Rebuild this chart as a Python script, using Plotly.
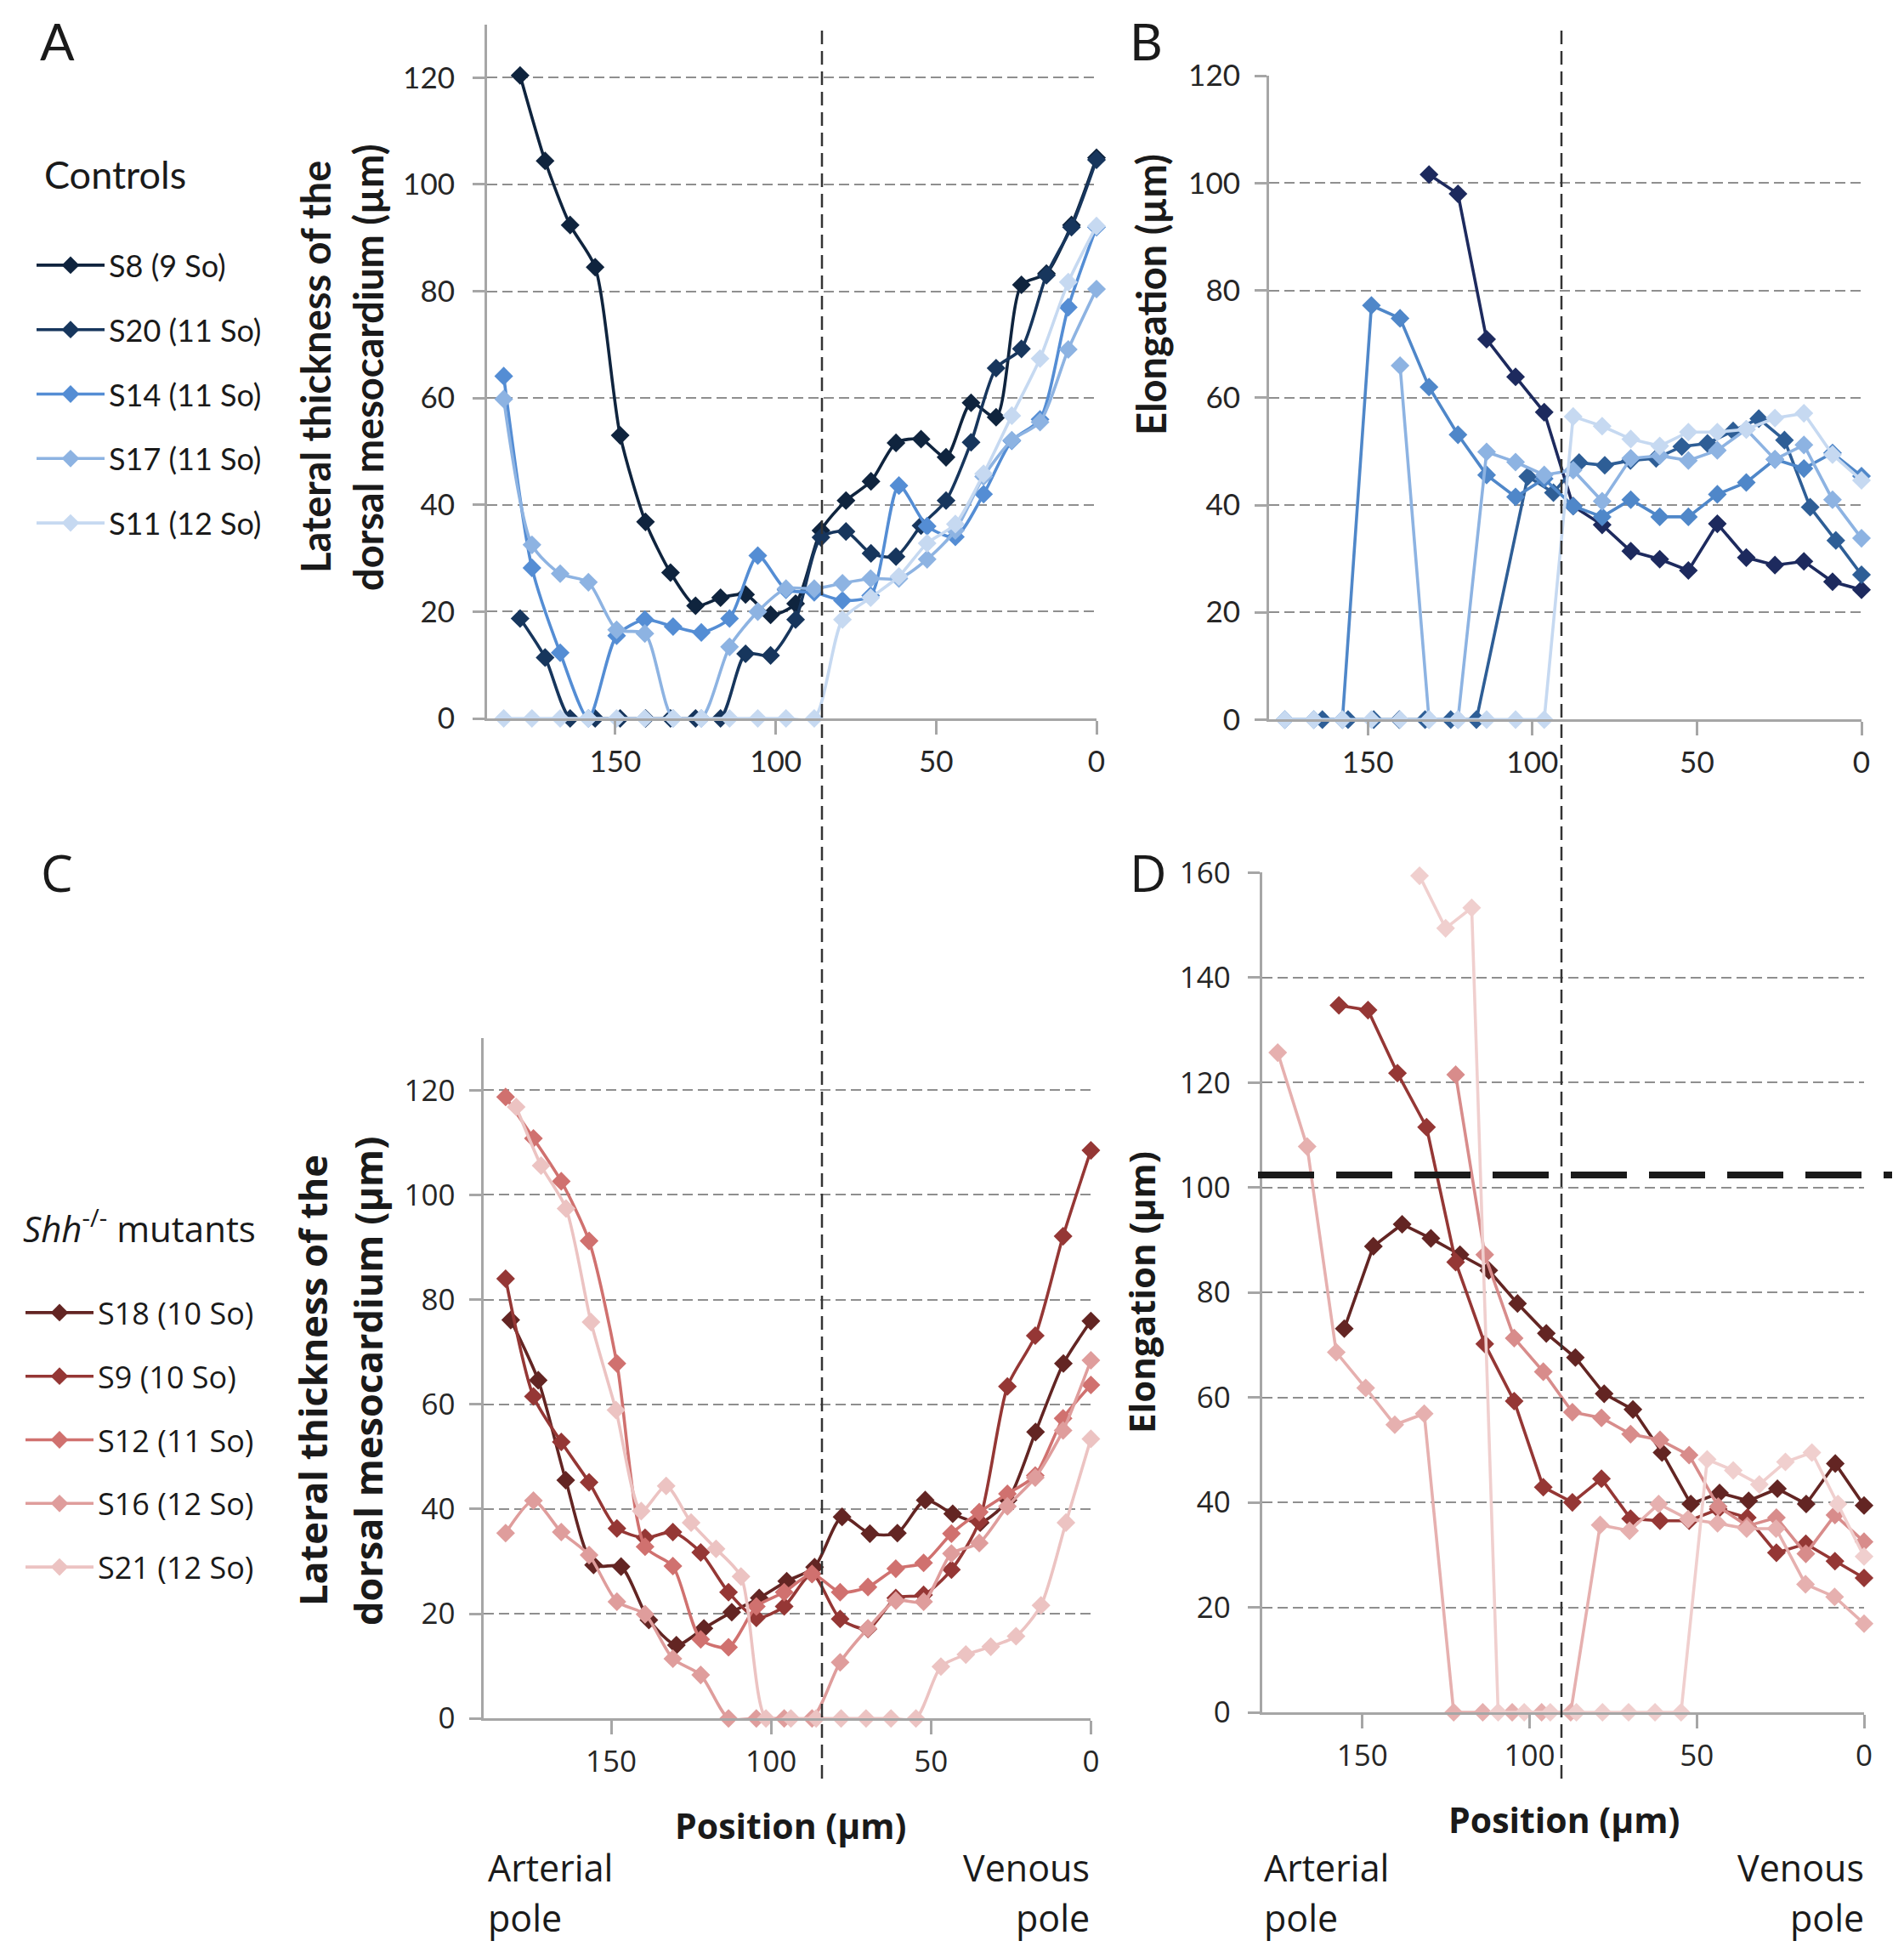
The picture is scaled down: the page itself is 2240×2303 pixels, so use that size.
import plotly.graph_objects as go

W, H = 2240, 2303
PAGE_PAD = 8   # default body margin of the page around the figure

# ---- panel A: lateral thickness, controls ----
a_x24 = [179.7, 171.9, 164.1, 156.3, 148.5, 140.6, 132.8, 125.0, 117.2, 109.4, 101.6, 93.8,
         85.9, 78.1, 70.3, 62.5, 54.7, 46.9, 39.1, 31.3, 23.4, 15.6, 7.8, 0]
a_x22 = [184.8, 176.0, 167.2, 158.4, 149.6, 140.8, 132.0, 123.2, 114.4, 105.6, 96.8, 88.0,
         79.2, 70.4, 61.6, 52.8, 44.0, 35.2, 26.4, 17.6, 8.8, 0]
a_s8 = [120.4, 104.4, 92.4, 84.5, 53.0, 36.8, 27.3, 21.1, 22.6, 23.2, 19.4, 21.5,
        35.2, 40.8, 44.4, 51.6, 52.3, 48.9, 59.1, 56.4, 81.2, 83.3, 92.4, 105.0]
a_s20 = [18.7, 11.4, 0, 0, 0, 0, 0, 0, 0, 12.1, 11.8, 18.5,
         33.9, 35.0, 30.9, 30.3, 36.1, 40.8, 51.7, 65.6, 69.2, 83.0, 92.0, 104.6]
a_s14 = [64.1, 28.2, 12.3, 0, 15.5, 18.5, 17.2, 16.1, 18.7, 30.5, 24.1, 23.6,
         22.1, 23.0, 43.6, 36.0, 34.0, 42.0, 52.0, 56.0, 77.0, 92.0]
a_s17 = [59.8, 32.5, 27.1, 25.5, 16.6, 15.9, 0, 0, 13.4, 20.0, 24.3, 24.3,
         25.3, 26.2, 26.2, 29.8, 35.2, 45.3, 52.1, 55.5, 69.1, 80.4]
a_s11 = [0, 0, 0, 0, 0, 0, 0, 0, 0, 0, 0, 0,
         18.5, 22.6, 26.6, 32.8, 36.4, 45.8, 56.7, 67.4, 81.7, 92.2]

# ---- panel B: elongation, controls ----
b_x21 = [175.2, 166.4, 157.7, 148.9, 140.2, 131.4, 122.6, 113.9, 105.1, 96.4, 87.6,
         78.8, 70.1, 61.3, 52.6, 43.8, 35.0, 26.3, 17.5, 8.8, 0]
b_x_s8 = [131.4, 122.6, 113.9, 105.1, 96.4, 87.6, 78.8, 70.1, 61.3, 52.6, 43.8, 35.0,
          26.3, 17.5, 8.8, 0]
b_s8 = [101.6, 98.0, 70.9, 63.9, 57.3, 39.8, 36.3, 31.4, 29.9, 27.8, 36.5, 30.2,
        28.8, 29.5, 25.7, 24.2]
b_x_s20 = [163.8, 156.0, 148.2, 140.4, 132.6, 124.8, 117.0, 101.4, 93.6, 85.8, 78.0,
           70.2, 62.4, 54.6, 46.8, 39.0, 31.2, 23.4, 15.6, 7.8, 0]
b_s20 = [0, 0, 0, 0, 0, 0, 0, 45.3, 42.3, 47.9, 47.4,
         48.3, 48.7, 50.9, 51.5, 53.8, 56.1, 52.1, 39.6, 33.4, 27.0]
b_s14 = [0, 0, 0, 77.2, 74.8, 62.0, 53.1, 45.6, 41.5, 44.9, 39.8,
         37.8, 41.0, 37.8, 37.8, 42.0, 44.2, 48.5, 46.8, 49.7, 45.4]
b_x_s17 = [140.2, 131.4, 122.6, 113.9, 105.1, 96.4, 87.6, 78.8, 70.1, 61.3, 52.6,
           43.8, 35.0, 26.3, 17.5, 8.8, 0]
b_s17 = [66.0, 0, 0, 49.9, 48.0, 45.6, 46.5, 40.7, 48.7, 49.2, 48.3,
         50.2, 54.1, 48.5, 51.2, 41.0, 33.8]
b_s11 = [0, 0, 0, 0, 0, 0, 0, 0, 0, 0, 56.5,
         54.7, 52.3, 51.0, 53.6, 53.6, 54.1, 56.2, 57.1, 49.4, 44.6]

# ---- panel C: lateral thickness, Shh-/- mutants ----
c_x_s18 = [181.4, 172.8, 164.2, 155.5, 146.9, 138.2, 129.6, 121.0, 112.3, 103.7, 95.1,
           86.4, 77.8, 69.1, 60.5, 51.8, 43.2, 34.6, 25.9, 17.3, 8.6, 0]
c_x22 = [183.0, 174.3, 165.6, 156.9, 148.2, 139.4, 130.7, 122.0, 113.3, 104.6, 95.9,
         87.2, 78.4, 69.7, 61.0, 52.3, 43.6, 34.9, 26.1, 17.4, 8.7, 0]
c_x24 = [179.7, 171.9, 164.1, 156.3, 148.5, 140.6, 132.8, 125.0, 117.2, 109.4, 101.6, 93.8,
         85.9, 78.1, 70.3, 62.5, 54.7, 46.9, 39.1, 31.3, 23.4, 15.6, 7.8, 0]
c_s18 = [76.1, 64.6, 45.5, 29.3, 29.0, 18.8, 14.0, 17.2, 20.3, 23.0, 26.2,
         28.9, 38.5, 35.3, 35.4, 41.7, 39.1, 37.4, 41.7, 54.7, 67.8, 75.9]
c_s9 = [84.0, 61.5, 52.8, 45.1, 36.3, 34.5, 35.6, 31.7, 24.1, 19.2, 21.4,
        27.6, 19.0, 17.1, 23.0, 23.6, 28.4, 37.6, 63.4, 73.1, 92.1, 108.5]
c_s12 = [118.7, 110.8, 102.6, 91.2, 67.8, 32.8, 29.1, 15.1, 13.6, 21.4, 24.1,
         27.6, 24.1, 25.1, 28.6, 29.7, 35.3, 39.4, 42.9, 46.4, 57.3, 63.7]
c_s16 = [35.4, 41.6, 35.6, 31.2, 22.3, 19.9, 11.4, 8.3, 0, 0, 0,
         0, 10.7, 17.2, 22.5, 22.3, 31.5, 33.5, 40.5, 46.0, 55.0, 68.4]
c_s21 = [116.8, 105.6, 97.4, 75.7, 58.9, 39.6, 44.4, 37.4, 32.4, 27.1, 0, 0,
         0, 0, 0, 0, 0, 9.9, 12.2, 13.7, 15.7, 21.6, 37.4, 53.4]

# ---- panel D: elongation, Shh-/- mutants ----
d_x_s18 = [155.4, 146.7, 138.1, 129.5, 120.8, 112.2, 103.6, 95.0, 86.3, 77.7, 69.1,
           60.4, 51.8, 43.2, 34.5, 25.9, 17.3, 8.6, 0]
d_s18 = [73.1, 88.8, 93.0, 90.3, 87.2, 84.2, 77.9, 72.2, 67.6, 60.7, 57.7,
         49.5, 39.7, 41.8, 40.3, 42.6, 39.7, 47.4, 39.4]
d_x_s9 = [157.0, 148.3, 139.5, 130.8, 122.1, 113.4, 104.6, 95.9, 87.2, 78.5, 69.8,
          61.0, 52.3, 43.6, 34.9, 26.2, 17.4, 8.7, 0]
d_s9 = [134.7, 133.8, 121.8, 111.5, 85.8, 70.2, 59.3, 42.9, 40.0, 44.5, 36.9,
        36.5, 36.5, 38.7, 37.1, 30.4, 32.1, 28.8, 25.6]
d_x_s12 = [122.1, 113.4, 104.6, 95.9, 87.2, 78.5, 69.8, 61.0, 52.3, 43.6, 34.9,
           26.2, 17.4, 8.7, 0]
d_s12 = [121.5, 87.2, 71.3, 64.9, 57.2, 56.1, 53.0, 51.9, 49.0, 39.2, 35.5,
         37.1, 30.2, 37.6, 32.5]
d_x_s16 = [175.3, 166.5, 157.8, 149.0, 140.3, 131.5, 122.7, 114.0, 105.2, 96.4, 87.7,
           78.9, 70.1, 61.4, 52.6, 43.8, 35.1, 26.3, 17.5, 8.8, 0]
d_s16 = [125.7, 107.8, 68.6, 61.8, 54.8, 56.9, 0, 0, 0, 0, 0,
         35.7, 34.6, 39.7, 36.8, 36.0, 35.0, 35.0, 24.4, 22.0, 16.9]
d_x_s21 = [132.9, 125.1, 117.3, 109.4, 101.6, 93.8, 86.0, 78.2, 70.4, 62.5, 54.7,
           46.9, 39.1, 31.3, 23.5, 15.6, 7.8, 0]
d_s21 = [159.4, 149.4, 153.3, 0, 0, 0, 0, 0, 0, 0, 0,
         48.2, 46.1, 43.4, 47.7, 49.5, 39.7, 29.7]
threshold = 102.4

ctrl_names = ["S8 (9 So)", "S20 (11 So)", "S14 (11 So)", "S17 (11 So)", "S11 (12 So)"]
mut_names = ["S18 (10 So)", "S9 (10 So)", "S12 (11 So)", "S16 (12 So)", "S21 (12 So)"]

blues_a = ["#0F243E", "#17365D", "#548DD4", "#8DB3E2", "#C6D9F1"]
blues_b = ["#1D2A5E", "#2E5E96", "#4F87C9", "#8DB3E2", "#C6D9F1"]
reds_c = ["#632523", "#953735", "#D0716F", "#DF9D9C", "#ECC3C2"]
reds_d = ["#632523", "#953735", "#D88C8B", "#E6B0AF", "#F0CFCE"]

LATO = "Lato"
OPEN = "Open Sans"
TXT = "#1a1a1a"


def px(x):
    return (x - PAGE_PAD) / W


def py(y):
    return 1 - (y - PAGE_PAD) / H


fig = go.Figure()


def add(xs, ys, name, color, axis, shape, legend=None):
    xa, ya = axis
    fig.add_trace(go.Scatter(
        x=xs, y=ys, name=name, mode="lines+markers",
        line=dict(color=color, width=3.6, shape=shape, smoothing=0.7),
        marker=dict(symbol="diamond", size=17, color=color),
        xaxis=xa, yaxis=ya, cliponaxis=False,
        showlegend=legend is not None, legend=legend or "legend",
        legendgroup=name + str(axis)))


# panel A
add(a_x24, a_s8, ctrl_names[0], blues_a[0], ("x", "y"), "spline", "legend")
add(a_x24, a_s20, ctrl_names[1], blues_a[1], ("x", "y"), "spline", "legend")
add(a_x22, a_s14, ctrl_names[2], blues_a[2], ("x", "y"), "spline", "legend")
add(a_x22, a_s17, ctrl_names[3], blues_a[3], ("x", "y"), "spline", "legend")
add(a_x22, a_s11, ctrl_names[4], blues_a[4], ("x", "y"), "spline", "legend")
# panel B
add(b_x_s8, b_s8, ctrl_names[0], blues_b[0], ("x2", "y2"), "linear")
add(b_x_s20, b_s20, ctrl_names[1], blues_b[1], ("x2", "y2"), "linear")
add(b_x21, b_s14, ctrl_names[2], blues_b[2], ("x2", "y2"), "linear")
add(b_x_s17, b_s17, ctrl_names[3], blues_b[3], ("x2", "y2"), "linear")
add(b_x21, b_s11, ctrl_names[4], blues_b[4], ("x2", "y2"), "linear")
# panel C
add(c_x_s18, c_s18, mut_names[0], reds_c[0], ("x3", "y3"), "spline", "legend2")
add(c_x22, c_s9, mut_names[1], reds_c[1], ("x3", "y3"), "spline", "legend2")
add(c_x22, c_s12, mut_names[2], reds_c[2], ("x3", "y3"), "spline", "legend2")
add(c_x22, c_s16, mut_names[3], reds_c[3], ("x3", "y3"), "spline", "legend2")
add(c_x24, c_s21, mut_names[4], reds_c[4], ("x3", "y3"), "spline", "legend2")
# panel D
add(d_x_s18, d_s18, mut_names[0], reds_d[0], ("x4", "y4"), "linear")
add(d_x_s9, d_s9, mut_names[1], reds_d[1], ("x4", "y4"), "linear")
add(d_x_s12, d_s12, mut_names[2], reds_d[2], ("x4", "y4"), "linear")
add(d_x_s16, d_s16, mut_names[3], reds_d[3], ("x4", "y4"), "linear")
add(d_x_s21, d_s21, mut_names[4], reds_d[4], ("x4", "y4"), "linear")

AX = "#a6a6a6"
GRID = "#8f8f8f"


def xax(dom, rng, font, anchor):
    return dict(domain=dom, range=rng, anchor=anchor, tick0=0, dtick=50,
                showgrid=False, zeroline=False, showline=True, linecolor=AX, linewidth=3,
                ticks="outside", ticklen=16, tickwidth=3, tickcolor=AX, automargin=False,
                ticklabelstandoff=2, tickfont=dict(family=font, size=35, color="#262626"))


def yax(dom, rng, font, anchor, standoff):
    return dict(domain=dom, range=rng, anchor=anchor, tick0=0, dtick=20,
                showgrid=True, gridcolor=GRID, gridwidth=2, griddash="12px,6px",
                zeroline=False, showline=True, linecolor=AX, linewidth=3, automargin=False,
                ticks="outside", ticklen=14, tickwidth=3, tickcolor=AX,
                ticklabelstandoff=standoff,
                tickfont=dict(family=font, size=35, color="#262626"))


fig.update_layout(
    width=W, height=H, margin=dict(l=0, r=0, t=0, b=0, autoexpand=False),
    paper_bgcolor="white", plot_bgcolor="white",
    xaxis=xax([px(573), px(1290)], [190, 0], LATO, "y"),
    yaxis=yax([py(845), py(28.5)], [0, 130], LATO, "x", 14),
    xaxis2=xax([px(1493), px(2190)], [180, 0], LATO, "y2"),
    yaxis2=yax([py(846.4), py(89.2)], [0, 120], LATO, "x2", 10),
    xaxis3=xax([px(568.5), px(1283.4)], [190, 0], OPEN, "y3"),
    yaxis3=yax([py(2021.2), py(1220.7)], [0, 130], OPEN, "x3", 9),
    xaxis4=xax([px(1484.7), px(2193)], [180, 0], OPEN, "y4"),
    yaxis4=yax([py(2014), py(1026.4)], [0, 160], OPEN, "x4", 13),
    legend=dict(x=px(38), y=py(282), xanchor="left", yanchor="top",
                font=dict(family=LATO, size=36, color=TXT), itemwidth=80,
                tracegroupgap=26, bgcolor="rgba(0,0,0,0)"),
    legend2=dict(x=px(25), y=py(1514), xanchor="left", yanchor="top",
                 font=dict(family=OPEN, size=36, color=TXT), itemwidth=80,
                 tracegroupgap=25, bgcolor="rgba(0,0,0,0)"),
)


def note(text, x, y, size, family, xanchor="center", bold=False, angle=0):
    fig.add_annotation(text=text, x=px(x), y=py(y), xref="paper", yref="paper",
                       xanchor=xanchor, yanchor="middle", showarrow=False, textangle=angle,
                       font=dict(family=family, size=size, color=TXT,
                                 weight="bold" if bold else "normal"))


# panel letters
note("A", 67, 48, 60, LATO)
note("B", 1348, 48, 60, LATO)
note("C", 67, 1026, 60, OPEN)
note("D", 1351, 1026, 60, OPEN)
# legend headers
note("Controls", 50, 205, 45, LATO, xanchor="left")
note("<i>Shh</i><sup>-/-</sup> mutants", 25, 1442, 42, OPEN, xanchor="left")
# y axis titles
note("Lateral thickness of the", 371, 432, 47, LATO, bold=True, angle=-90)
note("dorsal mesocardium (µm)", 433, 432, 47, LATO, bold=True, angle=-90)
note("Elongation (µm)", 1354, 347, 47, LATO, bold=True, angle=-90)
note("Lateral thickness of the", 367, 1624, 45, OPEN, bold=True, angle=-90)
note("dorsal mesocardium (µm)", 432, 1624, 45, OPEN, bold=True, angle=-90)
note("Elongation (µm)", 1342, 1520, 42, OPEN, bold=True, angle=-90)
# x axis titles and pole labels
note("Position (µm)", 930, 2147, 41, OPEN, bold=True)
note("Position (µm)", 1840, 2140, 41, OPEN, bold=True)
for left, right in [(572, 1284), (1485, 2195)]:
    note("Arterial", left, 2196, 43, OPEN, xanchor="left")
    note("pole", left, 2255, 43, OPEN, xanchor="left")
    note("Venous", right, 2196, 43, OPEN, xanchor="right")
    note("pole", right, 2255, 43, OPEN, xanchor="right")

# vertical separators between arterial / venous halves
for xs in (967, 1837):
    fig.add_shape(type="line", xref="paper", yref="paper",
                  x0=px(xs), x1=px(xs), y0=py(2092), y1=py(30),
                  line=dict(color="#333333", width=2.5, dash="16px,8px"))

# threshold line in D
fig.add_shape(type="line", xref="paper", yref="y4",
              x0=px(1480), x1=px(2226), y0=threshold, y1=threshold,
              line=dict(color="#1a1a1a", width=8, dash="66px,26px"))

fig.write_html("out.html")
